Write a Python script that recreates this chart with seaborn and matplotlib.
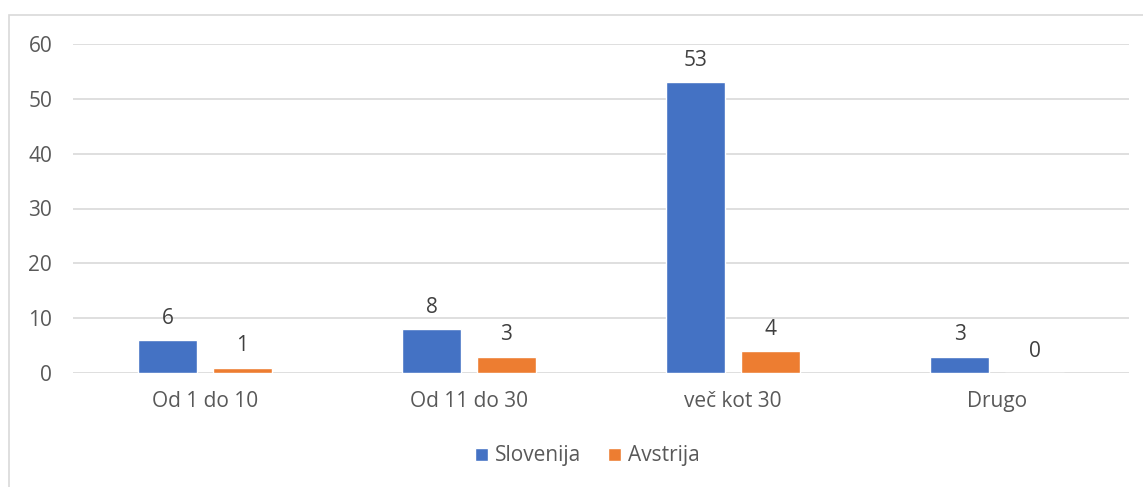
import pandas as pd
import matplotlib.pyplot as plt
import seaborn as sns
from matplotlib.patches import Rectangle

categories = ['Od 1 do 10', 'Od 11 do 30', 'več kot 30', 'Drugo']
slovenija = [6, 8, 53, 3]
avstrija = [1, 3, 4, 0]
series = ['Slovenija', 'Avstrija']

df = pd.DataFrame({
    'Kategorija': categories * 2,
    'Vrednost': slovenija + avstrija,
    'Država': [series[0]] * 4 + [series[1]] * 4,
})

sns.set_style('white')
plt.rcParams['font.family'] = ['Open Sans', 'DejaVu Sans']
text_color = '#595959'
fs = 15

fig = plt.figure(figsize=(11.43, 4.87), dpi=100)
ax = fig.add_axes([73 / 1143, 1 - 373 / 487, (1129 - 73) / 1143, (373 - 44) / 487])

sns.barplot(data=df, x='Kategorija', y='Vrednost', hue='Država', ax=ax,
            palette=['#4472C4', '#ED7D31'], width=0.568, gap=0.21,
            saturation=1, errorbar=None)

for c in ax.containers:
    ax.bar_label(c, padding=8, fontsize=fs, color='#404040')

ax.set_ylim(0, 60)
ax.set_yticks(range(0, 61, 10))
ax.yaxis.grid(True, color='#D9D9D9', lw=1.2)
ax.set_axisbelow(True)
sns.despine(ax=ax, left=True, bottom=True, top=True, right=True)
ax.tick_params(axis='both', length=0, labelsize=fs, colors=text_color)
ax.tick_params(axis='y', pad=15)
ax.tick_params(axis='x', pad=13)
ax.set_xlabel('')
ax.set_ylabel('')

ax.legend_.remove()
handles, labels = ax.get_legend_handles_labels()
fig.legend(handles, labels, loc='center', bbox_to_anchor=(0.514, 1 - 456 / 487),
           ncol=2, frameon=False, fontsize=fs, handlelength=0.6, handleheight=0.6,
           handletextpad=0.35, columnspacing=1.3, labelcolor=text_color)

fig.patches.append(Rectangle((9 / 1143, -0.05), 1.1, 1 - 15 / 487 + 0.05,
                             transform=fig.transFigure, fill=False,
                             edgecolor='#D9D9D9', lw=1.2))

fig.savefig('out.png', dpi=100)
